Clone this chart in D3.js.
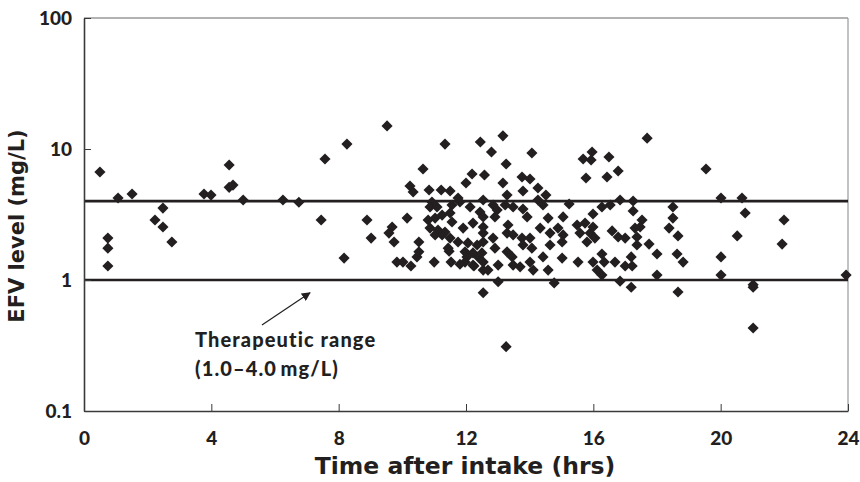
<!DOCTYPE html>
<html>
<head>
<meta charset="utf-8">
<script src="https://cdn.jsdelivr.net/npm/d3@7"></script>
<style>
  body { margin: 0; background: #fff; }
  text { font-family: Lato, "Open Sans", sans-serif; font-weight: 900; fill: #231f20; }
  .title { font-family: "DejaVu Sans", sans-serif; font-weight: bold; }
</style>
</head>
<body>
<div class="chart"></div>
<script>
// time after intake (hrs) and EFV level (mg/L)
const hours = [
  0.50, 1.07, 1.51, 0.75, 0.75, 0.75, 2.23, 2.48, 2.48, 2.76, 3.77, 3.99, 4.56, 4.56, 4.68, 5.00,
  6.25, 6.75, 7.45, 7.57, 8.26, 8.17, 9.52, 8.89, 9.02, 9.68, 9.58, 9.74, 10.15, 10.52, 9.83, 10.02,
  10.27, 10.46, 10.52, 10.24, 10.34, 10.65, 10.84, 11.22, 11.50, 11.34, 12.45, 12.80, 12.19, 12.58,
  12.00, 10.93, 11.75, 12.54, 12.54, 13.01, 11.00, 11.53, 11.97, 12.25, 12.54, 12.69, 11.47, 10.87,
  11.09, 11.56, 11.81, 12.13, 12.44, 10.81, 11.03, 11.25, 11.50, 11.56, 10.87, 11.12, 11.34, 11.03,
  11.25, 11.50, 11.75, 11.91, 12.22, 12.54, 12.06, 12.35, 11.44, 11.97, 12.22, 12.38, 12.03, 12.22,
  11.81, 13.16, 14.07, 13.26, 15.96, 15.68, 15.93, 15.77, 13.16, 13.76, 14.01, 13.79, 14.26, 14.51,
  13.29, 13.23, 12.85, 12.98, 13.48, 13.79, 13.92, 14.26, 14.42, 15.24, 14.58, 15.05, 15.99, 12.54,
  12.91, 12.54, 13.32, 13.29, 13.48, 14.33, 14.64, 14.89, 15.05, 15.49, 15.74, 15.58, 15.90, 15.80,
  16.05, 12.54, 12.85, 12.91, 13.76, 14.01, 13.79, 14.07, 14.64, 15.02, 13.29, 13.45, 12.50, 12.54,
  13.01, 13.48, 13.70, 14.01, 14.11, 14.42, 14.58, 15.02, 15.52, 15.99, 14.77, 13.26, 17.69, 19.54,
  16.49, 16.78, 16.43, 16.84, 17.25, 16.53, 16.27, 17.25, 18.50, 18.50, 18.38, 18.66, 17.53, 17.47,
  17.31, 16.59, 16.78, 17.00, 17.37, 17.37, 17.75, 18.00, 18.63, 18.82, 16.27, 16.34, 16.68, 16.12,
  16.27, 17.00, 17.22, 17.19, 18.00, 16.84, 17.19, 18.66, 15.99, 20.01, 20.67, 20.77, 21.99, 20.52,
  21.93, 20.01, 20.01, 23.94, 21.02, 21.02, 21.02
]
const efv = [
  6.67, 4.23, 4.53, 2.09, 1.75, 1.28, 2.87, 3.54, 2.54, 1.95, 4.53, 4.45, 7.55, 5.10, 5.30, 4.08,
  4.08, 3.92, 2.87, 8.39, 10.9, 1.47, 15.0, 2.87, 2.09, 2.54, 2.28, 1.95, 2.97, 1.95, 1.37, 1.37,
  1.28, 1.50, 1.64, 5.22, 4.70, 7.04, 4.86, 4.86, 4.78, 10.9, 11.3, 9.49, 6.44, 6.33,
  5.50, 3.94, 4.23, 4.08, 0.80, 0.97, 1.37, 1.37, 1.37, 1.28, 1.19, 1.19, 1.66, 3.61,
  3.61, 3.74, 3.94, 3.61, 3.30, 2.87, 2.97, 3.13, 3.25, 2.77, 2.49, 2.41, 2.32, 2.21,
  2.21, 2.09, 1.95, 2.49, 2.72, 2.28, 1.92, 1.85, 1.75, 1.64, 1.61, 1.50, 1.50, 1.30,
  1.32, 12.6, 9.32, 7.68, 9.49, 8.39, 8.24, 6.01, 5.50, 6.11, 5.90, 4.78, 5.04, 4.45,
  4.45, 3.74, 3.74, 3.42, 3.61, 3.48, 3.03, 4.08, 3.74, 3.80, 2.97, 3.03, 3.19, 3.03,
  3.03, 2.54, 2.63, 2.28, 2.21, 2.49, 2.28, 2.49, 2.21, 2.63, 2.72, 2.28, 2.28, 1.95,
  2.09, 1.95, 2.09, 1.75, 2.09, 2.09, 1.85, 1.75, 1.85, 1.95, 1.64, 1.50, 1.61, 1.37,
  1.30, 1.30, 1.26, 1.37, 1.19, 1.50, 1.19, 1.47, 1.37, 1.37, 0.95, 0.31, 12.1, 7.04,
  8.69, 6.79, 6.11, 4.08, 4.01, 3.74, 3.61, 3.36, 3.61, 2.97, 2.49, 2.17, 2.87, 2.54,
  2.49, 2.37, 2.13, 2.09, 2.13, 1.85, 1.88, 1.58, 1.58, 1.37, 1.58, 1.37, 1.37, 1.19,
  1.09, 1.28, 1.28, 1.50, 1.09, 0.98, 0.88, 0.81, 2.54, 4.23, 4.23, 3.25, 2.87, 2.17,
  1.88, 1.50, 1.09, 1.09, 0.88, 0.92, 0.43
]
const rangeLimits = [1, 4]
const xTicks = [0, 4, 8, 12, 16, 20, 24]
const yTicks = [0.1, 1, 10, 100]

const data = hours.map((h, i) => ({hours: h, efv: efv[i]}))

const margin = ({top: 18, right: 12, bottom: 71, left: 84})
const width = 860 - margin.left - margin.right,
  height = 482 - margin.top - margin.bottom

const svg = d3.select(".chart").append("svg")
  .attr("width", width + margin.left + margin.right)
  .attr("height", height + margin.top + margin.bottom)
  .append("g")
  .attr("transform", "translate(" + margin.left + "," + margin.top + ")")

const x = d3.scaleLinear().domain([0, 24]).range([0, width])
const y = d3.scaleLog().domain([0.1, 100]).range([height, 0])

// frame: top and right lighter
svg.append("line").attr("x1", 0).attr("x2", width).attr("y1", 0).attr("y2", 0)
  .attr("stroke", "#666").attr("stroke-width", 1.2)
svg.append("line").attr("x1", width).attr("x2", width).attr("y1", 0).attr("y2", height)
  .attr("stroke", "#999").attr("stroke-width", 1.2)

// therapeutic range lines
svg.selectAll(".range")
  .data(rangeLimits)
  .enter()
  .append("line")
  .attr("class", "range")
  .attr("x1", 0).attr("x2", width)
  .attr("y1", d => y(d)).attr("y2", d => y(d))
  .attr("stroke", "#231f20")
  .attr("stroke-width", 2.6)

const xAxis = d3.axisBottom(x)
  .tickValues(xTicks)
  .tickSize(-7)
  .tickSizeOuter(0)
  .tickPadding(21)

const yAxis = d3.axisLeft(y)
  .tickValues(yTicks)
  .tickFormat(d => String(d))
  .tickSize(-7)
  .tickSizeOuter(0)
  .tickPadding(12)

let xAxisGroup = svg.append("g")
  .attr("class", "axis x-axis")
  .attr("transform", `translate(0, ${height})`)
  .call(xAxis)

let yAxisGroup = svg.append("g")
  .attr("class", "axis y-axis")
  .call(yAxis)

svg.selectAll(".axis text")
  .attr("font-size", 19)
  .attr("font-family", "Lato, sans-serif")
  .attr("font-weight", 900)
  .attr("fill", "#231f20")
svg.selectAll(".axis .domain").attr("stroke", "#3a3a3a").attr("stroke-width", 1.6)
svg.selectAll(".axis .tick line").attr("stroke", "#3a3a3a").attr("stroke-width", 1)

// points
const diamond = d3.symbol().type(d3.symbolSquare).size(62)
svg.append("g")
  .selectAll("path")
  .data(data)
  .enter()
  .append("path")
  .attr("d", diamond)
  .attr("transform", d => `translate(${x(d.hours)},${y(d.efv)}) rotate(45)`)
  .attr("fill", "#231f20")

// annotation
svg.append("defs").append("marker")
  .attr("id", "arrow")
  .attr("viewBox", "0 0 10 10")
  .attr("refX", 9).attr("refY", 5)
  .attr("markerWidth", 9).attr("markerHeight", 9)
  .attr("markerUnits", "userSpaceOnUse")
  .attr("orient", "auto")
  .append("path")
  .attr("d", "M0,0L10,5L0,10Z")
  .attr("fill", "#231f20")

svg.append("line")
  .attr("x1", x(5.59)).attr("y1", y(0.453))
  .attr("x2", x(7.10)).attr("y2", y(0.80))
  .attr("stroke", "#231f20")
  .attr("stroke-width", 1.2)
  .attr("marker-end", "url(#arrow)")

svg.append("text")
  .attr("x", x(3.49)).attr("y", y(0.308))
  .attr("font-size", 20)
  .attr("letter-spacing", 1.1)
  .text("Therapeutic range")

svg.append("text")
  .attr("x", x(3.49)).attr("y", y(0.185))
  .attr("font-size", 20)
  .attr("letter-spacing", 1.1)
  .text("(1.0\u20134.0\u2009mg/L)")

// axis titles
svg.append("text")
  .attr("class", "title")
  .attr("x", 465 - margin.left)
  .attr("y", height + 63)
  .attr("text-anchor", "middle")
  .attr("font-size", 23.5)
  .text("Time after intake (hrs)")

svg.append("text")
  .attr("class", "title")
  .attr("transform", `translate(${-60}, ${226 - margin.top}) rotate(-90)`)
  .attr("text-anchor", "middle")
  .attr("font-size", 21)
  .text("EFV level (mg/L)")
</script>
</body>
</html>
